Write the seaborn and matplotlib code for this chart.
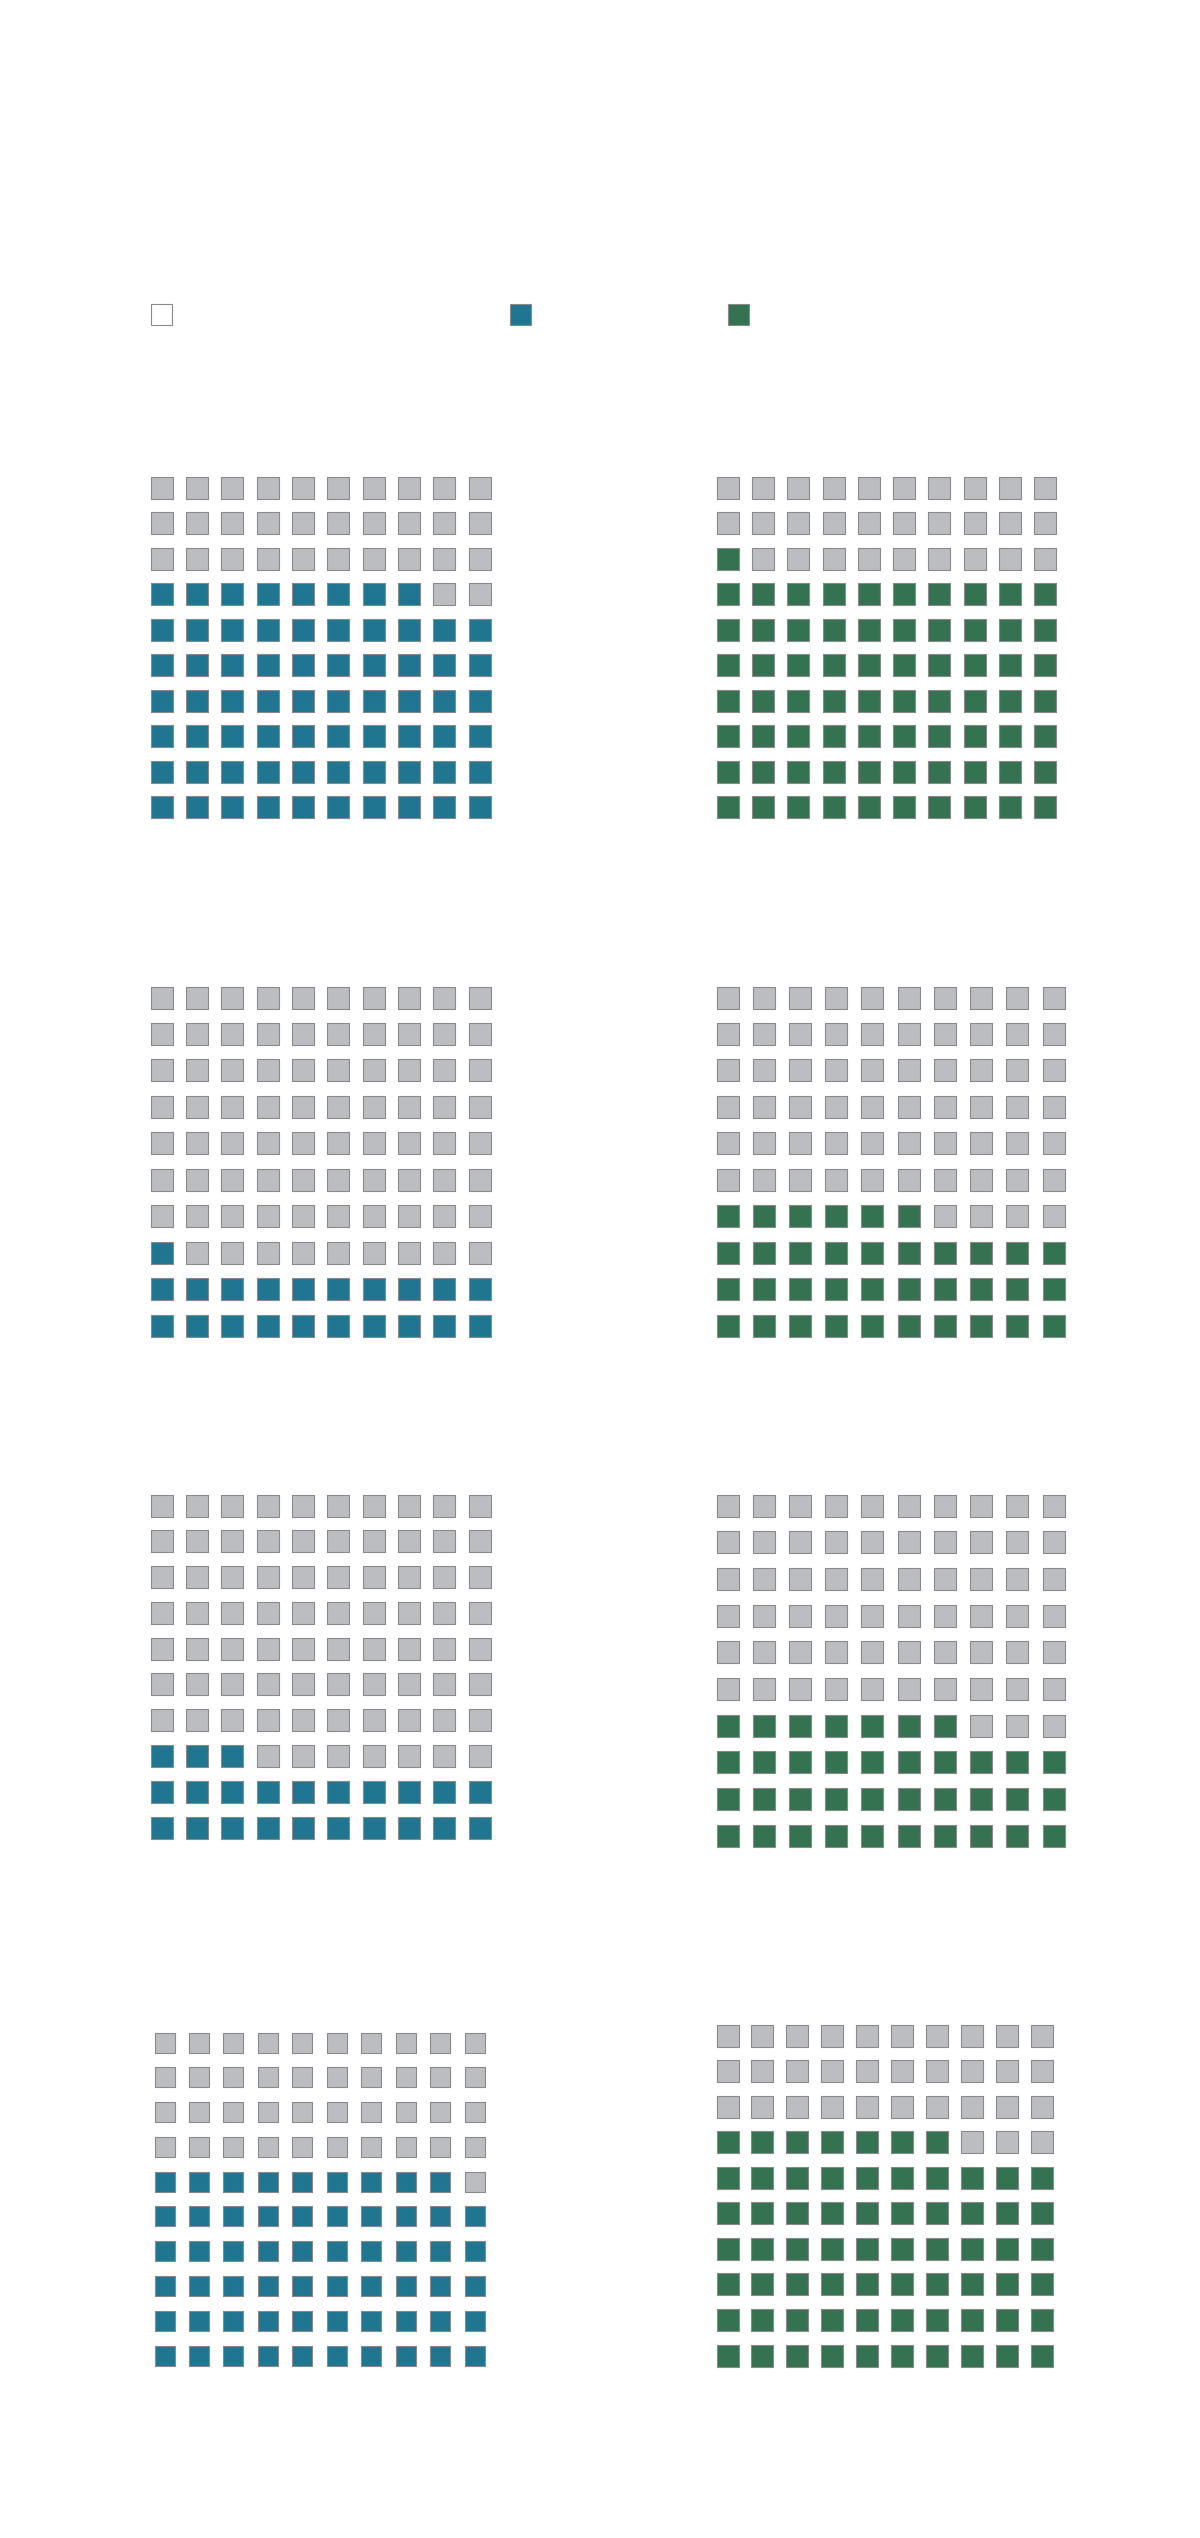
import matplotlib
matplotlib.use("Agg")
import matplotlib.pyplot as plt
from matplotlib.lines import Line2D
import seaborn as sns
import pandas as pd

# ---- data ----
panel_values_left = [68, 21, 23, 59]    # blue waffles, top to bottom
panel_values_right = [71, 36, 37, 67]   # green waffles, top to bottom
legend_labels = ["", "", ""]
grid_rows = 10
grid_cols = 10

# ---- style ----
BLUE = "#207591"
GREEN = "#347252"
GRAY = "#BCBDC0"
EDGE = "#8a8a8a"

sns.set_theme(style="white")
W, H = 1200, 2538
fig = plt.figure(figsize=(W / 100, H / 100), dpi=100)
fig.patch.set_facecolor("white")

# layout: (x0, x1, y0, y1, square side) in pixels
left_boxes = [(150, 491, 476, 819, 23), (150, 491, 986, 1337, 23),
              (150, 491, 1494, 1839, 23), (154, 485, 2032, 2366, 21)]
right_boxes = [(716, 1057, 476, 819, 23), (716, 1065, 986, 1337, 23),
               (716, 1065, 1494, 1847, 23), (716, 1053, 2024, 2367, 23)]


def waffle_frame(value):
    recs = []
    for i in range(grid_rows * grid_cols):
        recs.append({"row": i // grid_cols, "col": i % grid_cols,
                     "status": "on" if i < value else "off"})
    return pd.DataFrame(recs)


def add_panel(box, value, color):
    x0, x1, y0, y1, sq = box
    px = (x1 - x0 - sq) / (grid_cols - 1)
    py = (y1 - y0 - sq) / (grid_rows - 1)
    left = x0 + sq / 2 - px / 2
    top = y0 + sq / 2 - py / 2
    width = px * grid_cols
    height = py * grid_rows
    ax = fig.add_axes([left / W, 1 - (top + height) / H, width / W, height / H])
    df = waffle_frame(value)
    side_pt = (sq - 1) * 0.72
    sns.scatterplot(data=df, x="col", y="row", hue="status",
                    palette={"on": color, "off": GRAY}, marker="s",
                    s=side_pt ** 2, edgecolor=EDGE, linewidth=0.8,
                    legend=False, ax=ax)
    ax.set_xlim(-0.5, grid_cols - 0.5)
    ax.set_ylim(-0.5, grid_rows - 0.5)
    ax.axis("off")


for box, v in zip(left_boxes, panel_values_left):
    add_panel(box, v, BLUE)
for box, v in zip(right_boxes, panel_values_right):
    add_panel(box, v, GREEN)

# legend (three swatches, labels empty as in the reference)
legend_colors = ["white", BLUE, GREEN]
legend_pos = [(160.5, 315), (520, 315), (737.5, 315)]
for lab, col, (lx, ly) in zip(legend_labels, legend_colors, legend_pos):
    h = Line2D([], [], marker="s", linestyle="none", markersize=21 * 0.72,
               markerfacecolor=col, markeredgecolor=EDGE, markeredgewidth=0.8)
    fig.legend([h], [lab], loc="center", bbox_to_anchor=(lx / W, 1 - ly / H),
               frameon=False, handletextpad=0, borderpad=0, handlelength=1.0,
               borderaxespad=0)

fig.savefig("out.png", dpi=100, facecolor="white")
